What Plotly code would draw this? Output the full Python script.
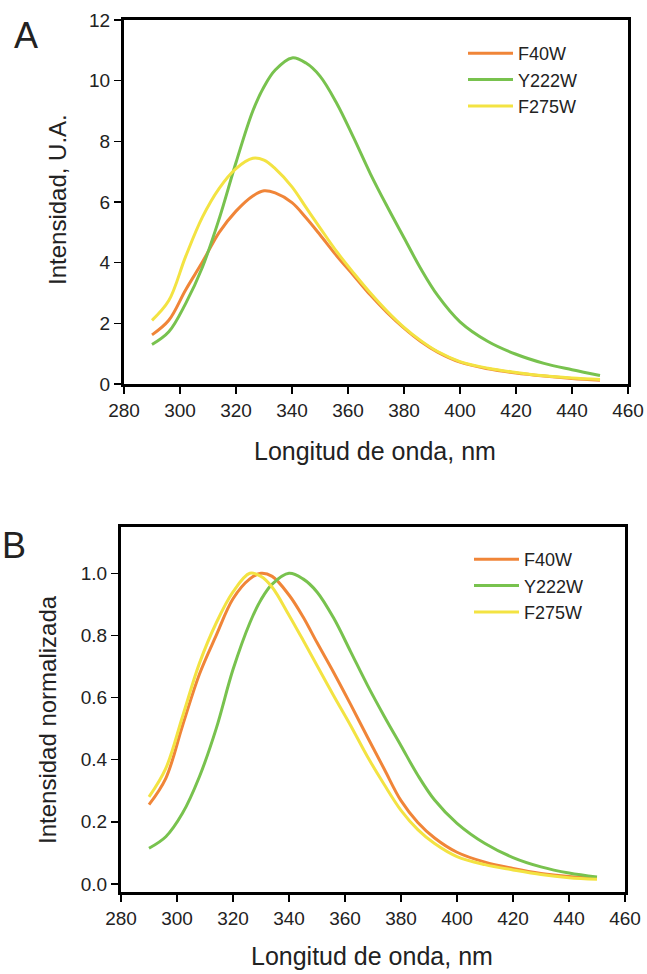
import plotly.graph_objects as go

# ---------------- data ----------------
wavelength = [290, 296, 302, 308, 314, 320, 326, 330, 334, 340, 345, 350, 356,
              362, 368, 374, 380, 386, 392, 400, 410, 420, 430, 440, 450]

# Panel A: raw intensity (U.A.)
a_F40W = [1.62, 2.10, 3.10, 4.02, 5.00, 5.70, 6.20, 6.37, 6.30, 5.98, 5.48, 4.92, 4.22,
          3.58, 2.93, 2.35, 1.84, 1.40, 1.05, 0.72, 0.50, 0.36, 0.26, 0.18, 0.12]
a_Y222W = [1.30, 1.72, 2.65, 3.85, 5.45, 7.30, 9.00, 9.80, 10.35, 10.75, 10.58, 10.15, 9.25,
           8.12, 6.93, 5.85, 4.82, 3.80, 2.92, 2.05, 1.40, 0.98, 0.68, 0.47, 0.28]
a_F275W = [2.10, 2.75, 4.20, 5.50, 6.45, 7.10, 7.44, 7.38, 7.10, 6.50, 5.82, 5.15, 4.36,
           3.66, 3.00, 2.40, 1.87, 1.43, 1.07, 0.74, 0.52, 0.38, 0.27, 0.20, 0.15]

# Panel B: normalised intensity
b_F40W = [0.255, 0.340, 0.510, 0.675, 0.800, 0.918, 0.982, 1.000, 0.990, 0.930, 0.860, 0.777, 0.680,
          0.578, 0.473, 0.370, 0.268, 0.198, 0.148, 0.102, 0.070, 0.050, 0.034, 0.024, 0.018]
b_Y222W = [0.115, 0.152, 0.228, 0.345, 0.500, 0.690, 0.840, 0.915, 0.965, 1.000, 0.982, 0.940, 0.855,
           0.748, 0.640, 0.540, 0.445, 0.350, 0.270, 0.195, 0.130, 0.085, 0.055, 0.035, 0.022]
b_F275W = [0.280, 0.372, 0.540, 0.710, 0.840, 0.940, 1.000, 0.990, 0.955, 0.865, 0.785, 0.703, 0.605,
           0.510, 0.410, 0.320, 0.237, 0.175, 0.130, 0.088, 0.062, 0.045, 0.030, 0.020, 0.015]

series_names = ["F40W", "Y222W", "F275W"]
x_ticks = [280, 300, 320, 340, 360, 380, 400, 420, 440, 460]
a_yticks = [0, 2, 4, 6, 8, 10, 12]
b_yticks = [0.0, 0.2, 0.4, 0.6, 0.8, 1.0]
b_yticklabels = ["0.0", "0.2", "0.4", "0.6", "0.8", "1.0"]

colors = ["#F08538", "#78C24E", "#F3E342"]
FONT = "Liberation Sans, Arial, Helvetica, sans-serif"
W, H = 647, 974


def px_x(p):
    return p / W


def px_y(p):
    return 1 - p / H


fig = go.Figure()
for name, ya, yb, c in zip(series_names, [a_F40W, a_Y222W, a_F275W],
                           [b_F40W, b_Y222W, b_F275W], colors):
    fig.add_trace(go.Scatter(x=wavelength, y=ya, name=name, mode="lines",
                             line=dict(color=c, width=3, shape="spline", smoothing=1.0),
                             xaxis="x", yaxis="y", legend="legend"))
    fig.add_trace(go.Scatter(x=wavelength, y=yb, name=name, mode="lines",
                             line=dict(color=c, width=3, shape="spline", smoothing=1.0),
                             xaxis="x2", yaxis="y2", legend="legend2"))

axis_common = dict(showgrid=False, zeroline=False, showline=True, linecolor="black",
                   linewidth=3, mirror=True, ticks="outside", ticklen=7, tickwidth=1.5,
                   tickcolor="black", automargin=False,
                   tickfont=dict(family=FONT, size=19, color="#222"))

legend_common = dict(xanchor="left", yanchor="top", bgcolor="rgba(0,0,0,0)",
                     font=dict(family=FONT, size=18, color="#222"),
                     itemwidth=45, tracegroupgap=0)

fig.update_layout(
    width=W, height=H,
    margin=dict(l=0, r=0, t=0, b=0),
    paper_bgcolor="white", plot_bgcolor="white",
    showlegend=True,
    xaxis=dict(domain=[px_x(124), px_x(628)], range=[280, 460], tickvals=x_ticks,
               anchor="y", **axis_common),
    yaxis=dict(domain=[px_y(384), px_y(20)], range=[0, 12], tickvals=a_yticks,
               anchor="x", **axis_common),
    xaxis2=dict(domain=[px_x(121), px_x(625)], range=[280, 460], tickvals=x_ticks,
                anchor="y2", **axis_common),
    yaxis2=dict(domain=[px_y(892), px_y(527)], range=[-0.026, 1.149], tickvals=b_yticks,
                ticktext=b_yticklabels, anchor="x2", **axis_common),
    legend=dict(x=px_x(463), y=px_y(35), **legend_common),
    legend2=dict(x=px_x(469), y=px_y(541), **legend_common),
)

annots = [
    dict(text="A", x=px_x(26), y=px_y(35), size=36),
    dict(text="B", x=px_x(14), y=px_y(545), size=36),
    dict(text="Longitud de onda, nm", x=px_x(375), y=px_y(451), size=25),
    dict(text="Longitud de onda, nm", x=px_x(372), y=px_y(956), size=25),
]
for a in annots:
    fig.add_annotation(text=a["text"], x=a["x"], y=a["y"], xref="paper", yref="paper",
                       xanchor="center", yanchor="middle", showarrow=False,
                       font=dict(family=FONT, size=a["size"], color="#222"))
fig.add_annotation(text="Intensidad, U.A.", x=px_x(58), y=px_y(200), xref="paper", yref="paper",
                   xanchor="center", yanchor="middle", showarrow=False, textangle=-90,
                   font=dict(family=FONT, size=24, color="#222"))
fig.add_annotation(text="Intensidad normalizada", x=px_x(47), y=px_y(720), xref="paper", yref="paper",
                   xanchor="center", yanchor="middle", showarrow=False, textangle=-90,
                   font=dict(family=FONT, size=24, color="#222"))

# remove the default page margin so the 647x974 figure fills the window exactly
page_fix = ("document.body.style.margin='0';document.body.style.overflow='hidden';"
            "document.documentElement.style.overflow='hidden';")
fig.write_html("out.html", post_script=page_fix,
               config={"displayModeBar": False, "staticPlot": True})
